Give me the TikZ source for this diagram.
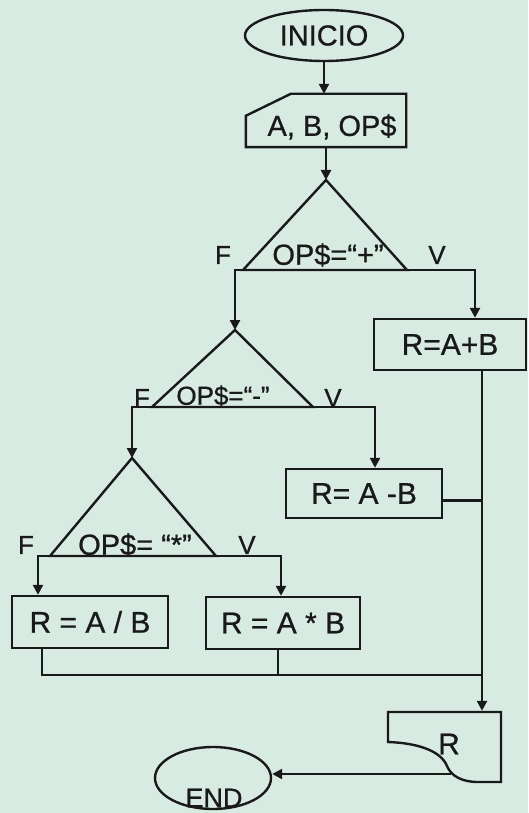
\documentclass[tikz,border=0pt]{standalone}
\usepackage{fontspec}
\setmainfont{Liberation Sans}[FakeBold=0.7]
\usetikzlibrary{shapes.geometric,arrows.meta,calc}
\definecolor{bg}{RGB}{216,235,227}
\definecolor{ink}{RGB}{25,25,25}
\newcommand\myfs[1]{\fontsize{#1pt}{#1pt}\selectfont}
\begin{document}
\begin{tikzpicture}[x=1pt,y=-1pt,line width=2.4pt,draw=ink,text=ink,
  box/.style={draw,rectangle,inner sep=0pt,font=\myfs{30}},
  shape box/.style={draw=none,rectangle,inner sep=0pt},
  term/.style={draw,ellipse,inner sep=0pt},
  arr/.style={-{Triangle[length=10pt,width=10pt]}},
  lbl/.style={inner sep=0pt,font=\myfs{26}},
  cond/.style={inner sep=0pt,font=\myfs{29}}]
\fill[bg] (0,0) rectangle (528,813);
\useasboundingbox (0,0) rectangle (528,813);

% start
\node[term,minimum width=158pt,minimum height=51pt,font=\myfs{29}] (ini) at (324,35.5) {INICIO};

% input
\node[shape box,minimum width=158pt,minimum height=51pt] (inp) at (326,120.5) {};
\draw ([yshift=-22pt]inp.north west) -- ([xshift=45pt]inp.north west) -- (inp.north east) -- (inp.south east) -- (inp.south west) -- cycle;
\node[inner sep=0pt,font=\myfs{29}] (inptxt) at (332,127) {A, B, OP\$};
\draw[arr] (ini.south) -- (ini.south |- inp.north);

% decision 1
\coordinate (t1a) at (326,180);
\coordinate (t1l) at (243,270);
\coordinate (t1r) at (407,270);
\draw (t1a) -- (t1l) -- (t1r) -- cycle;
\draw[arr] (inp.south) -- (t1a);
\node[cond] (c1) at (328,255) {OP\$=“+”};
\node[lbl] (f1) at (223,255) {F};
\node[lbl] (v1) at (437,255) {V};

% R=A+B
\node[box,minimum width=152pt,minimum height=51pt] (apb) at (450,344.5) {R=A+B};
\draw[arr] (t1r) -| ([xshift=25pt]apb.north);

% decision 2
\coordinate (t2a) at (235,330);
\coordinate (t2l) at (152,407);
\coordinate (t2r) at (313,407);
\draw[arr] (t1l) -| (t2a);
\draw (t2a) -- (t2l) -- (t2r) -- cycle;
\node[cond,font=\myfs{26}] (c2) at (223,396) {OP\$=“-”};
\node[lbl] (f2) at (142,398) {F};
\node[lbl] (v2) at (333,398) {V};

% R=A-B
\node[box,minimum width=156pt,minimum height=49pt] (amb) at (364,493.5) {R= A -B};
\draw[arr] (t2r) -| ([xshift=11pt]amb.north);

% decision 3
\coordinate (t3a) at (132,458);
\coordinate (t3l) at (50,556);
\coordinate (t3r) at (216,556);
\draw[arr] (t2l) -| (t3a);
\draw (t3a) -- (t3l) -- (t3r) -- cycle;
\node[cond] (c3) at (135,545) {OP\$= “*”};
\node[lbl] (f3) at (26,545) {F};
\node[lbl] (v3) at (247,545) {V};

% R=A/B and R=A*B
\node[box,minimum width=156pt,minimum height=52pt] (adb) at (90,622) {R = A / B};
\node[box,minimum width=154pt,minimum height=52pt] (axb) at (283,623) {R = A * B};
\draw[arr] (t3l) -| ([xshift=-52pt]adb.north);
\draw[arr] (t3r) -| ([xshift=-2pt]axb.north);

% output R
\node[shape box,minimum width=114pt,minimum height=70pt] (rbox) at (444.5,747) {};
\draw (388,712) -- (501,712) -- (501,782) -- (478,782)
  .. controls (462,782) and (451,776) .. (447,766)
  .. controls (441,751) and (418,743) .. (388,742) -- cycle;
\node[inner sep=0pt,font=\myfs{30}] (rtxt) at (449,744) {R};
\coordinate (rpt) at (451,774);

% merging lines
\coordinate (join) at (482,675);
\draw[arr] ([xshift=32pt]apb.south) -- ([xshift=37.5pt]rbox.north);
\draw ([yshift=-7pt]amb.east) -- ([yshift=-7pt]amb.east -| join);
\draw ([xshift=-48pt]adb.south) |- (join);
\draw ([xshift=-5pt]axb.south) -- ([xshift=-5pt]axb.south |- join);

% end
\node[term,minimum width=116pt,minimum height=62pt] (fin) at (213,778) {};
\node[inner sep=0pt,font=\myfs{27}] (fintxt) at (214,798) {END};
\draw[arr] (rpt) -- (rpt -| fin.east);
\end{tikzpicture}
\end{document}
